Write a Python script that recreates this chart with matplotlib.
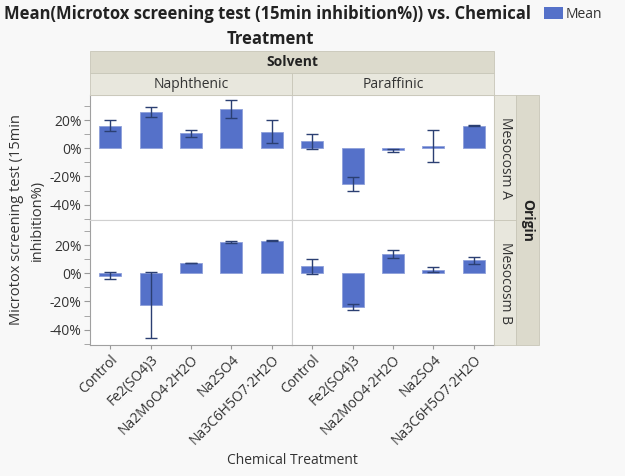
import matplotlib
matplotlib.use("Agg")
import matplotlib.pyplot as plt
import numpy as np
from matplotlib.patches import Rectangle

plt.rcParams['font.family'] = ['Open Sans', 'DejaVu Sans']

treatments = ["Control", "Fe2(SO4)3", "Na2MoO4·2H2O", "Na2SO4", "Na3C6H5O7·2H2O"]
solvents = ["Naphthenic", "Paraffinic"]
origins = ["Mesocosm A", "Mesocosm B"]

# means (%) and error half-widths (%)
mean_A_naph = [16.2, 26.0, 10.7, 27.7, 11.8]
err_A_naph = [3.7, 3.5, 2.4, 6.4, 8.1]
mean_A_para = [5.1, -25.5, -1.3, 1.6, 16.0]
err_A_para = [5.4, 5.1, 1.0, 11.4, 0.3]
mean_B_naph = [-1.8, -22.5, 7.4, 22.3, 23.2]
err_B_naph = [2.5, 23.2, 0.3, 0.8, 0.4]
mean_B_para = [4.9, -23.8, 13.8, 2.7, 9.2]
err_B_para = [5.3, 2.2, 2.5, 2.0, 2.2]

data = {("Mesocosm A", "Naphthenic"): (mean_A_naph, err_A_naph),
        ("Mesocosm A", "Paraffinic"): (mean_A_para, err_A_para),
        ("Mesocosm B", "Naphthenic"): (mean_B_naph, err_B_naph),
        ("Mesocosm B", "Paraffinic"): (mean_B_para, err_B_para)}

W, H = 625, 476
fig = plt.figure(figsize=(W / 100, H / 100), dpi=100)
fig.patch.set_facecolor("#F8F8F8")

def fx(x): return x / W
def fy(y): return 1 - y / H

bar_color = "#5571C9"
err_color = "#2B3F72"
strip1 = "#DCDACC"
strip2 = "#E8E7DD"

xl = [90, 292]
xr = [292, 494]
yt = [95, 220]
yb = [220, 345]

for ri, org in enumerate(origins):
    ys = [yt, yb][ri]
    for ci, sol in enumerate(solvents):
        xs = [xl, xr][ci]
        ax = fig.add_axes([fx(xs[0]), fy(ys[1]), fx(xs[1] - xs[0]), (ys[1] - ys[0]) / H])
        m, e = data[(org, sol)]
        x = np.arange(len(treatments))
        ax.bar(x, m, width=0.54, color=bar_color, edgecolor="#8EA0DA", linewidth=0.6, zorder=2)
        ax.errorbar(x, m, yerr=e, fmt='none', ecolor=err_color, elinewidth=1.0, capsize=4, capthick=1.0, zorder=3)
        ax.set_xlim(-0.5, 4.5)
        ax.set_ylim(-51, 38)
        ax.set_facecolor("white")
        for s in ax.spines.values():
            s.set_color("#D0D0D0")
            s.set_linewidth(0.8)
        ax.set_yticks([-40, -20, 0, 20])
        ax.set_yticks([-50, -30, -10, 10, 30], minor=True)
        if ci == 0:
            ax.set_yticklabels(["-40%", "-20%", "0%", "20%"], fontsize=10, color="#333333")
            ax.tick_params(axis='y', which='both', length=4, color="#999999", pad=2)
            ax.spines['left'].set_color("#A0A0A0")
        else:
            ax.set_yticklabels([])
            ax.tick_params(axis='y', which='both', length=0)
        ax.set_xticks(x)
        if ri == 1:
            ax.set_xticklabels(treatments, rotation=45, ha='right', rotation_mode='anchor',
                               fontsize=10, color="#333333")
            ax.tick_params(axis='x', length=3, color="#999999", pad=2)
            ax.spines['bottom'].set_color("#A0A0A0")
        else:
            ax.set_xticklabels([])
            ax.tick_params(axis='x', length=0)

def rect(x0, y0, x1, y1, color):
    fig.patches.append(Rectangle((fx(x0), fy(y1)), fx(x1 - x0), (y1 - y0) / H,
                                 transform=fig.transFigure, facecolor=color,
                                 edgecolor="#C8C6B8", linewidth=0.6, zorder=1))

# top strips
rect(90, 51, 494, 73, strip1)
fig.text(fx(292), fy(62), "Solvent", ha='center', va='center', fontsize=10, fontweight='bold', color="#222222")
for ci, sol in enumerate(solvents):
    xs = [xl, xr][ci]
    rect(xs[0], 73, xs[1], 95, strip2)
    fig.text(fx((xs[0] + xs[1]) / 2), fy(84), sol, ha='center', va='center', fontsize=10, color="#333333")

# right strips
for ri, org in enumerate(origins):
    ys = [yt, yb][ri]
    rect(494, ys[0], 516, ys[1], strip2)
    fig.text(fx(505), fy((ys[0] + ys[1]) / 2), org, ha='center', va='center', rotation=-90,
             fontsize=10, color="#333333")
rect(516, 95, 539, 345, strip1)
fig.text(fx(527.5), fy(220), "Origin", ha='center', va='center', rotation=-90,
         fontsize=10, fontweight='bold', color="#222222")

# title
fig.text(fx(4), fy(14), "Mean(Microtox screening test (15min inhibition%)) vs. Chemical",
         ha='left', va='center', fontsize=12, fontweight='bold', color="#222222")
fig.text(fx(270), fy(39), "Treatment", ha='center', va='center', fontsize=12,
         fontweight='bold', color="#222222")

# legend
fig.patches.append(Rectangle((fx(544), fy(19)), fx(19), 12 / H, transform=fig.transFigure,
                             facecolor=bar_color, edgecolor="none"))
fig.text(fx(566), fy(14), "Mean", ha='left', va='center', fontsize=10, color="#333333")

# axis labels
fig.text(fx(27), fy(220), "Microtox screening test (15min\ninhibition%)", ha='center', va='center',
         rotation=90, fontsize=10.5, color="#333333", linespacing=1.5)
fig.text(fx(292), fy(460), "Chemical Treatment", ha='center', va='center', fontsize=10, color="#333333")

fig.savefig("out.png", dpi=100, facecolor=fig.get_facecolor())
